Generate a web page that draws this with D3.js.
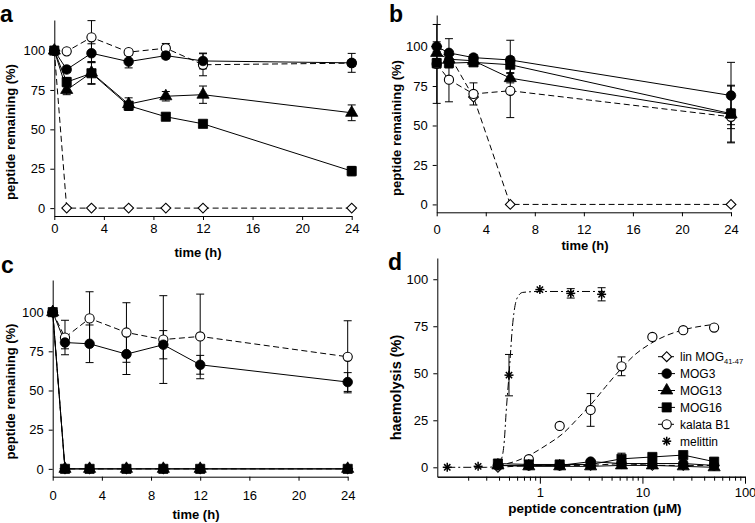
<!DOCTYPE html>
<html>
<head>
<meta charset="utf-8">
<script src="https://cdn.jsdelivr.net/npm/d3@7"></script>
<style>
body { margin: 0; background: #fff; }
text { font-family: "Liberation Sans", Arial, Helvetica, sans-serif; }
</style>
</head>
<body>
<div id="chart"></div>
<script>
// ---- panel a (time course, %)
var timesA = [0, 1, 3, 6, 9, 12, 24];
var aLin = [100, 0, 0, 0, 0, 0, 0];
var aMog3 = [100, 88, 98.3, 93, 96.8, 93.4, 92.2];
var aMog3Err = [0, 2, 6, 4, 2, 5, 6];
var aMog13 = [100, 75, 86, 66, 71, 72, 60.5];
var aMog13Err = [0, 3, 7, 4, 3, 5.5, 5];
var aMog16 = [100, 80, 85.6, 65, 58, 53.5, 23.5];
var aMog16Err = [0, 3, 7, 2, 2, 1, 3];
var aKalata = [100, 99.5, 108.4, 99, 101.5, 91, 92];
var aKalataErr = [0, 0, 10.6, 1, 3, 7, 2];

// ---- panel b
var timesB = [0, 1, 3, 6, 24];
var bLin = [100, 95, 68, 0, 0];
var bMog3 = [100, 96, 93, 91.5, 69];
var bMog3Err = [3, 9, 2, 12.5, 21];
var bMog13 = [96, 92, 91, 80, 57];
var bMog13Err = [0, 3, 2, 3, 18];
var bMog16 = [89.5, 89.5, 90, 88.5, 57.5];
var bMog16Err = [3, 3, 2, 5, 18];
var bKalata = [89, 79, 70, 72, 55.5];
var bKalataErr = [25, 14, 7, 17, 5];

// ---- panel c
var timesC = [0, 1, 3, 6, 9, 12, 24];
var cLin = [100, 0, 0, 0, 0, 0, 0];
var cMog3 = [100, 80.6, 79.8, 73.2, 79.2, 66.4, 55.4];
var cMog3Err = [0, 4, 12, 13, 9, 6, 6];
var cMog13 = [100, 0, 0, 0, 0, 0, 0];
var cMog16 = [100, 0, 0, 0, 0, 0, 0];
var cKalata = [100, 83.8, 96, 87, 82.5, 84.5, 71.5];
var cKalataErr = [0, 11, 17, 19, 28, 27, 23];

var timeTicks = [0, 4, 8, 12, 16, 20, 24];
var pctTicks = [0, 25, 50, 75, 100];

// ---- panel d (haemolysis)
var concD = [0.39, 0.78, 1.56, 3.125, 6.25, 12.5, 25, 50];
var dLin = [0, 1, 1, 1, 2, 1, 1, 1];
var dMog3 = [1, 1, 1, 3, 2, 2, 2, 1];
var dMog13 = [1, 0.5, 0.5, 0.5, 1, 1, 0.5, 0];
var dMog16 = [2, 1.5, 1.5, 1.5, 4.5, 5.5, 6.5, 3];
var dMog16Err = [0, 0, 0, 0, 3, 0, 0, 0];
var dKalata = [1, 4.3, 22, 30.5, 53.7, 69.3, 72.9, 74.3];
var dKalataErr = [0, 0, 0, 8.7, 5, 0, 0, 0];
var concMel = [0.125, 0.25, 0.5, 1, 2, 4];
var dMel = [0, 0.5, 49, 94.5, 92.5, 92];
var dMelErr = [0, 0, 11, 0, 2.5, 3.5];
// fitted curves
var melCurveX = [0.125, 0.3, 0.38, 0.42, 0.45, 0.47, 0.5, 0.545, 0.6, 0.68, 1, 2, 4.2];
var melCurveY = [0, 0, 0.5, 4, 14, 30, 49, 77, 90, 93, 93.5, 93.5, 93.5];
var kbCurveX = [0.39, 0.6, 0.79, 1.15, 1.68, 2.44, 3.1, 4.4, 6.1, 8.5, 12.2, 17, 24.8, 50];
var kbCurveY = [1, 3.5, 6.4, 11.7, 18, 27, 33, 43, 52, 60, 66, 70, 73, 76];
var concMajor = [1, 10, 100];
var concMinor = [0.2, 0.3, 0.4, 0.5, 0.6, 0.7, 0.8, 0.9, 2, 3, 4, 5, 6, 7, 8, 9, 20, 30, 40, 50, 60, 70, 80, 90];

var legendNames = ["lin MOG", "MOG3", "MOG13", "MOG16", "kalata B1", "melittin"];

var DASH = "6,3.5";
var DASHDOT = "8,3,2,3";

var svg = d3.select("#chart").append("svg")
    .attr("width", 755)
    .attr("height", 523);

function drawMarker(g, sym, cx, cy) {
  if (sym == "asterisk") {
    var s = 4.5;
    [[0, -s, 0, s], [-s, 0, s, 0], [-s * .7, -s * .7, s * .7, s * .7], [-s * .7, s * .7, s * .7, -s * .7]].forEach(function(l) {
      g.append("line")
        .attr("x1", cx + l[0]).attr("y1", cy + l[1])
        .attr("x2", cx + l[2]).attr("y2", cy + l[3])
        .attr("stroke", "#000").attr("stroke-width", 1.5);
    });
    return;
  }
  var type = {circle: d3.symbolCircle, ocircle: d3.symbolCircle, triangle: d3.symbolTriangle,
              square: d3.symbolSquare, diamond: d3.symbolSquare}[sym];
  var size = {circle: 72, ocircle: 66, triangle: 64, square: 84, diamond: 48}[sym];
  var open = (sym == "ocircle" || sym == "diamond");
  g.append("path")
    .attr("d", d3.symbol().type(type).size(size)())
    .attr("transform", "translate(" + cx + "," + cy + ")" + (sym == "diamond" ? " rotate(45)" : ""))
    .attr("fill", open ? "#fff" : "#000")
    .attr("stroke", "#000")
    .attr("stroke-width", open ? 1.1 : 0.8);
}

function styleAxis(ax) {
  ax.attr("font-size", 13).attr("font-family", '"Liberation Sans", Arial, sans-serif');
  ax.selectAll(".domain").attr("stroke", "#000");
  ax.selectAll(".tick line").attr("stroke", "#000");
  ax.selectAll(".tick text").attr("fill", "#000");
}

function drawPanel(p) {
  var g = svg.append("g");
  var x = (p.log ? d3.scaleLog() : d3.scaleLinear()).domain(p.xDomain).range([p.left, p.right]);
  var y = d3.scaleLinear().domain(p.yDomain).range([p.bottom, p.top]);

  // axes
  var xa = g.append("g").attr("transform", "translate(0," + p.bottom + ")");
  if (p.log) {
    xa.call(d3.axisBottom(x).tickValues(concMinor).tickSize(4).tickSizeOuter(0).tickFormat(""));
    styleAxis(xa);
    var xm = g.append("g").attr("transform", "translate(0," + p.bottom + ")")
      .call(d3.axisBottom(x).tickValues(concMajor).tickSize(7).tickSizeOuter(0)
        .tickPadding(p.xPad).tickFormat(d3.format("d")));
    styleAxis(xm);
  } else {
    xa.call(d3.axisBottom(x).tickValues(timeTicks).tickSize(4).tickSizeOuter(0).tickPadding(p.xPad));
    styleAxis(xa);
  }
  var ya = g.append("g").attr("transform", "translate(" + p.left + ",0)")
    .call(d3.axisLeft(y).tickValues(pctTicks).tickSize(4).tickSizeOuter(0).tickPadding(5));
  styleAxis(ya);

  // axis titles
  g.append("text")
    .attr("x", p.xTitle[0]).attr("y", p.xTitle[1])
    .attr("text-anchor", "middle").attr("font-weight", "bold").attr("font-size", p.titleSize || 13)
    .text(p.xLabel);
  g.append("text")
    .attr("transform", "translate(" + p.yTitle[0] + "," + p.yTitle[1] + ") rotate(-90)")
    .attr("text-anchor", "middle").attr("font-weight", "bold").attr("font-size", p.yTitleSize || 13)
    .text(p.yLabel);
  g.append("text")
    .attr("x", p.tag[0]).attr("y", p.tag[1])
    .attr("font-weight", "bold").attr("font-size", 23)
    .text(p.tagText);

  var line = d3.line()
    .x(function(d) { return x(d[0]); })
    .y(function(d) { return y(d[1]); });

  // fitted curves
  (p.curves || []).forEach(function(c) {
    g.append("path")
      .datum(d3.zip(c.xs, c.ys))
      .attr("d", line.curve(d3.curveMonotoneX))
      .attr("fill", "none").attr("stroke", "#000").attr("stroke-width", 1)
      .attr("stroke-dasharray", c.dash);
    line.curve(d3.curveLinear);
  });

  // connecting lines
  p.series.forEach(function(s) {
    if (s.noLine) return;
    g.append("path")
      .datum(d3.zip(s.xs, s.vs))
      .attr("d", line)
      .attr("fill", "none").attr("stroke", "#000").attr("stroke-width", 1)
      .attr("stroke-dasharray", s.dash ? DASH : null);
  });

  // error bars
  p.series.forEach(function(s) {
    if (!s.err) return;
    s.xs.forEach(function(t, i) {
      var e = s.err[i];
      if (!e) return;
      var cx = x(t), y1 = y(s.vs[i] - e), y2 = y(s.vs[i] + e);
      g.append("line").attr("x1", cx).attr("x2", cx).attr("y1", y1).attr("y2", y2)
        .attr("stroke", "#000").attr("stroke-width", 1);
      [y1, y2].forEach(function(yy) {
        g.append("line").attr("x1", cx - 4).attr("x2", cx + 4).attr("y1", yy).attr("y2", yy)
          .attr("stroke", "#000").attr("stroke-width", 1);
      });
    });
  });

  // markers
  p.series.forEach(function(s) {
    s.xs.forEach(function(t, i) {
      drawMarker(g, s.sym, x(t), y(s.vs[i]));
    });
  });
  return g;
}

drawPanel({
  left: 54.3, right: 351.7, top: 20, bottom: 216, xDomain: [0, 24], yDomain: [-5, 119.4],
  xPad: 4, xTitle: [198, 256.5], yTitle: [14.5, 132], tag: [0, 22], tagText: "a",
  xLabel: "time (h)", yLabel: "peptide remaining (%)",
  series: [
    {xs: timesA, vs: aKalata, err: aKalataErr, sym: "ocircle", dash: true},
    {xs: timesA, vs: aLin, sym: "diamond", dash: true},
    {xs: timesA, vs: aMog13, err: aMog13Err, sym: "triangle"},
    {xs: timesA, vs: aMog16, err: aMog16Err, sym: "square"},
    {xs: timesA, vs: aMog3, err: aMog3Err, sym: "circle"}
  ]
});

drawPanel({
  left: 436.7, right: 731, top: 15, bottom: 212.3, xDomain: [0, 24], yDomain: [-5, 120],
  xPad: 8, xTitle: [585, 249.5], yTitle: [401, 128], tag: [389, 22], tagText: "b",
  xLabel: "time (h)", yLabel: "peptide remaining (%)",
  series: [
    {xs: timesB, vs: bLin, sym: "diamond", dash: true},
    {xs: timesB, vs: bKalata, err: bKalataErr, sym: "ocircle", dash: true},
    {xs: timesB, vs: bMog13, err: bMog13Err, sym: "triangle"},
    {xs: timesB, vs: bMog16, err: bMog16Err, sym: "square"},
    {xs: timesB, vs: bMog3, err: bMog3Err, sym: "circle"}
  ]
});

drawPanel({
  left: 52.7, right: 347.7, top: 280, bottom: 476.7, xDomain: [0, 24], yDomain: [-5, 120.5],
  xPad: 10, xTitle: [196, 518.5], yTitle: [14.5, 391.5], tag: [1, 273], tagText: "c",
  xLabel: "time (h)", yLabel: "peptide remaining (%)",
  series: [
    {xs: timesC, vs: cKalata, err: cKalataErr, sym: "ocircle", dash: true},
    {xs: timesC, vs: cLin, sym: "diamond", dash: true},
    {xs: timesC, vs: cMog13, sym: "triangle"},
    {xs: timesC, vs: cMog3, err: cMog3Err, sym: "circle"},
    {xs: timesC, vs: cMog16, sym: "square"}
  ]
});

var pd = drawPanel({
  log: true, left: 437.3, right: 745, top: 258, bottom: 476.7, xDomain: [0.1, 100], yDomain: [-5, 111.3],
  xPad: 4, xTitle: [595, 513], yTitle: [401, 387.5], tag: [388, 270], tagText: "d",
  titleSize: 13.5, yTitleSize: 14.5,
  xLabel: "peptide concentration (\u03bcM)", yLabel: "haemolysis (%)",
  curves: [
    {xs: melCurveX, ys: melCurveY, dash: DASHDOT},
    {xs: kbCurveX, ys: kbCurveY, dash: DASH}
  ],
  series: [
    {xs: concD, vs: dKalata, err: dKalataErr, sym: "ocircle", noLine: true},
    {xs: concMel, vs: dMel, err: dMelErr, sym: "asterisk", noLine: true},
    {xs: concD, vs: dLin, sym: "diamond", dash: true},
    {xs: concD, vs: dMog13, sym: "triangle"},
    {xs: concD, vs: dMog3, sym: "circle"},
    {xs: concD, vs: dMog16, err: dMog16Err, sym: "square"}
  ]
});

// legend (panel d)
var legSyms = ["diamond", "circle", "triangle", "square", "ocircle", "asterisk"];
var legDash = [DASH, null, null, null, DASH, "none"];
var leg = pd.append("g");
legendNames.forEach(function(name, i) {
  var cy = 356.7 + i * 16.9;
  if (legDash[i] != "none") {
    leg.append("line").attr("x1", 658).attr("x2", 675).attr("y1", cy).attr("y2", cy)
      .attr("stroke", "#000").attr("stroke-width", 1)
      .attr("stroke-dasharray", legDash[i] ? "4,2" : null);
  }
  drawMarker(leg, legSyms[i], 666.7, cy);
  var t = leg.append("text").attr("x", 680).attr("y", cy + 4.3).attr("font-size", 12).text(name);
  if (i == 0) {
    t.append("tspan").attr("font-size", 7.5).attr("dy", 3).text("41-47");
  }
});
</script>
</body>
</html>
